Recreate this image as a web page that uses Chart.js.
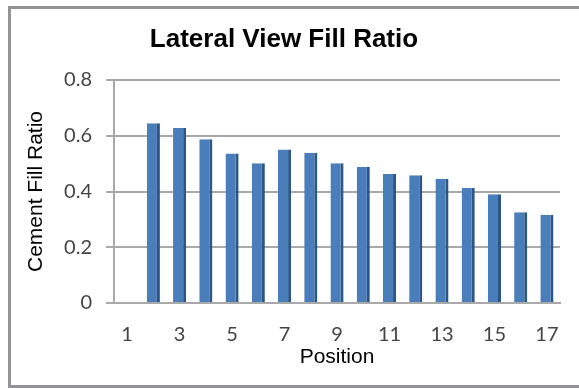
<!DOCTYPE html>
<html>
<head>
<meta charset="utf-8">
<script src="https://cdn.jsdelivr.net/npm/chart.js@4"></script>
<style>
  html, body { margin: 0; padding: 0; background: #fff; overflow: hidden; }
  #wrap { position: relative; width: 579px; height: 388px; }
  #frame { position: absolute; left: 8px; top: 6px; width: 620px; height: 376px; border: 3px solid #939396; }
  #c { position: absolute; left: 0; top: 0; }
</style>
</head>
<body>
<div id="wrap">
  <div id="frame"></div>
  <canvas id="c" width="579" height="388"></canvas>
</div>
<script>
// Injection positions along the lateral view
const positions = ['1', '2', '3', '4', '5', '6', '7', '8', '9', '10', '11', '12', '13', '14', '15', '16', '17'];
// Cement fill ratio measured at each position (no reading at position 1)
const fillRatio = [null, 0.645, 0.628, 0.587, 0.536, 0.501, 0.551, 0.539, 0.501, 0.489, 0.463, 0.458, 0.446, 0.413, 0.390, 0.326, 0.317];
// Value axis tick marks
const yTicks = [0, 0.2, 0.4, 0.6, 0.8];

const gridGrey = '#a9a9a9';

new Chart(document.getElementById('c'), {
  type: 'bar',
  data: {
    labels: positions,
    datasets: [{
      label: 'Cement Fill Ratio',
      data: fillRatio,
      backgroundColor: '#4a7ebb',
      borderColor: '#2c5688',
      borderWidth: { top: 0, left: 0, bottom: 0, right: 3 },
      borderSkipped: false,
      categoryPercentage: 1.0,
      barPercentage: 0.5
    }]
  },
  options: {
    responsive: false,
    animation: false,
    devicePixelRatio: 1,
    layout: { padding: { left: 5, right: 16, top: 0, bottom: 0 } },
    plugins: {
      legend: { display: false },
      tooltip: { enabled: false },
      title: {
        display: true,
        text: 'Lateral View Fill Ratio',
        color: '#000',
        font: { family: '"Liberation Sans", Arial, sans-serif', size: 26, weight: 'bold', lineHeight: 1.2 },
        padding: { top: 24, bottom: 24.8 }
      }
    },
    scales: {
      x: {
        afterFit: (s) => { s.height = 85; },
        grid: { display: false, drawTicks: false },
        border: { display: true, color: gridGrey, width: 2 },
        ticks: {
          autoSkip: false,
          maxRotation: 0,
          padding: 20,
          color: '#444',
          font: { family: 'Lato, "Open Sans", sans-serif', size: 20 },
          callback: function (v, i) { return i % 2 === 0 ? positions[i] : ''; }
        },
        title: {
          display: true,
          text: 'Position',
          color: '#000',
          font: { family: '"Liberation Sans", Arial, sans-serif', size: 21, lineHeight: 1.2 },
          padding: { top: 0, bottom: 18 }
        }
      },
      y: {
        min: 0,
        max: 0.8,
        afterFit: (s) => { s.width = 109; },
        afterBuildTicks: (s) => { s.ticks = yTicks.map(v => ({ value: v })); },
        grid: { color: gridGrey, lineWidth: 2, tickLength: 8, tickColor: gridGrey },
        border: { display: true, color: gridGrey, width: 2 },
        ticks: {
          padding: 14,
          color: '#444',
          font: { family: 'Lato, "Open Sans", sans-serif', size: 20 },
          callback: (v) => String(v)
        },
        title: {
          display: true,
          text: 'Cement Fill Ratio',
          color: '#000',
          font: { family: '"Liberation Sans", Arial, sans-serif', size: 21, lineHeight: 1.2 },
          padding: { top: 19, bottom: 0 }
        }
      }
    }
  }
});
</script>
</body>
</html>
